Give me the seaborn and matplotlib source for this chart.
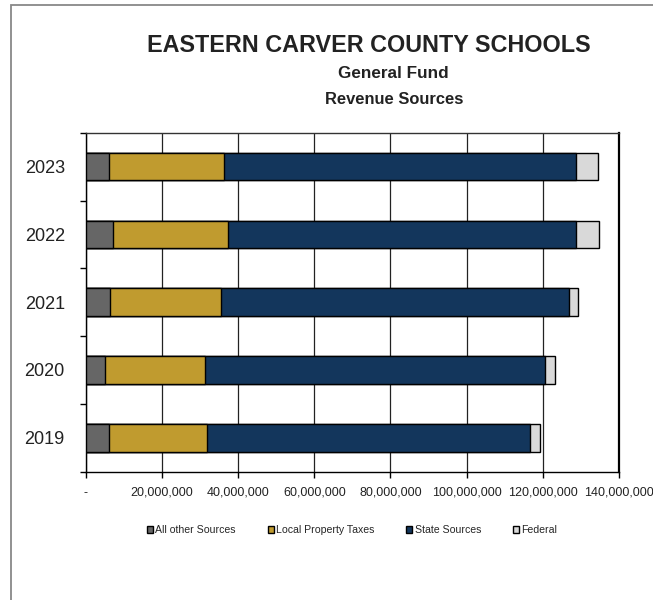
import matplotlib
matplotlib.use("Agg")
import matplotlib.pyplot as plt
import matplotlib.patches as mpatches
from matplotlib.ticker import FuncFormatter, FixedLocator
import seaborn as sns
import pandas as pd
import numpy as np

# ---- data (dollars) ----
years = ["2023", "2022", "2021", "2020", "2019"]
all_other = [6.0e6, 7.2e6, 6.45e6, 5.1e6, 6.0e6]
local_property = [30.3e6, 30.2e6, 29.05e6, 26.3e6, 25.9e6]
state_sources = [92.3e6, 91.2e6, 91.3e6, 89.3e6, 84.8e6]
federal = [5.9e6, 6.1e6, 2.5e6, 2.5e6, 2.6e6]

series_names = ["All other Sources", "Local Property Taxes", "State Sources", "Federal"]
series_colors = ["#666666", "#C09B2F", "#13365C", "#D9D9D9"]
xticks = [0, 20e6, 40e6, 60e6, 80e6, 100e6, 120e6, 140e6]

sns.set_style("white")
plt.rcParams["font.family"] = ["Liberation Sans", "DejaVu Sans"]

df = pd.DataFrame({
    "year": years,
    "All other Sources": all_other,
    "Local Property Taxes": local_property,
    "State Sources": state_sources,
    "Federal": federal,
})
cum = df[series_names].cumsum(axis=1)

fig = plt.figure(figsize=(6.53, 6.00), dpi=100)
ax = fig.add_axes([85.7 / 653, 1 - 471.7 / 600, (619 - 85.7) / 653, (471.7 - 132.7) / 600])

# stacked bars: draw cumulative totals from the outermost layer inward
for name, color in reversed(list(zip(series_names, series_colors))):
    sns.barplot(x=cum[name], y=df["year"], order=years, orient="h", color=color,
                saturation=1, width=0.41, edgecolor="black", linewidth=1.0,
                errorbar=None, ax=ax, zorder=3)

ax.set_xlim(0, 140e6)
ax.set_ylim(4.5, -0.5)
ax.set_xlabel("")
ax.set_ylabel("")

ax.xaxis.set_major_locator(FixedLocator(xticks))
ax.xaxis.set_major_formatter(FuncFormatter(lambda v, p: "-" if v == 0 else f"{v:,.0f}"))
ax.tick_params(axis="x", direction="out", length=4, width=1, color="black",
               labelsize=9, pad=7, labelcolor="#222222", bottom=True)
ax.tick_params(axis="y", which="major", length=0, labelsize=13, pad=15, labelcolor="#222222")
ax.yaxis.set_minor_locator(FixedLocator(np.arange(-0.5, 5.0, 1.0)))
ax.tick_params(axis="y", which="minor", direction="out", length=4, width=1, color="black", left=True)

ax.xaxis.grid(True, color="#222222", linewidth=0.9)
ax.set_axisbelow(True)
for side in ["left", "bottom", "right"]:
    ax.spines[side].set_visible(True)
    ax.spines[side].set_color("black")
    ax.spines[side].set_linewidth(1.0)
ax.spines["right"].set_linewidth(1.6)
ax.spines["top"].set_visible(True)
ax.spines["top"].set_color("#333333")
ax.spines["top"].set_linewidth(1.0)

# titles
fig.text(369 / 653, 1 - 46 / 600, "EASTERN CARVER COUNTY SCHOOLS", ha="center", va="center",
         fontsize=16.8, fontweight="bold", color="#222222")
fig.text(393 / 653, 1 - 73 / 600, "General Fund", ha="center", va="center",
         fontsize=12.3, fontweight="bold", color="#222222")
fig.text(394.5 / 653, 1 - 100 / 600, "Revenue Sources", ha="center", va="center",
         fontsize=11.9, fontweight="bold", color="#222222")

# legend
handles = [mpatches.Patch(facecolor=c, edgecolor="black", linewidth=1.0, label=n)
           for n, c in zip(series_names, series_colors)]
fig.legend(handles=handles, loc="center", bbox_to_anchor=(352 / 653, 1 - 530 / 600),
           ncol=4, frameon=False, fontsize=7.6, handlelength=0.6, handleheight=0.6,
           handletextpad=0.2, columnspacing=3.0)

# outer chart border (only top and left visible in crop)
fig.patches.append(mpatches.Rectangle((10.5 / 653, -0.1), 1.2, 1.1 - 4.5 / 600,
                                      transform=fig.transFigure, fill=False,
                                      edgecolor="#888888", linewidth=1.3))

fig.savefig("out.png", dpi=100)
